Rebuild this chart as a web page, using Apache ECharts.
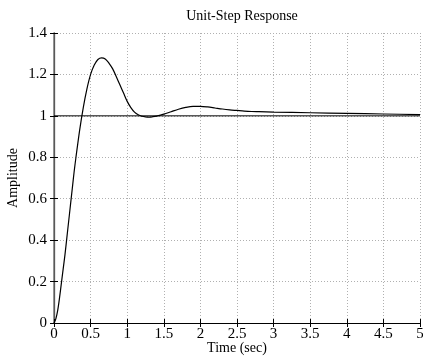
<!DOCTYPE html>
<html>
<head>
<meta charset="utf-8">
<script src="https://cdn.jsdelivr.net/npm/echarts@6/dist/echarts.min.js"></script>
<style>
  html, body { margin: 0; padding: 0; background: #fff; }
  #chart { width: 423px; height: 356px; }
</style>
</head>
<body>
<div id="chart"></div>
<script>
// step response (time in sec, amplitude)
const times = [0, 0.025, 0.05, 0.075, 0.1, 0.125, 0.15, 0.175, 0.2, 0.225, 0.25, 0.275, 0.3, 0.35, 0.4, 0.45, 0.5,
  0.55, 0.6, 0.65, 0.7, 0.75, 0.8, 0.85, 0.9, 0.95, 1.0, 1.05, 1.1, 1.15, 1.2, 1.25, 1.3, 1.35, 1.4, 1.5, 1.6, 1.7,
  1.8, 1.9, 2.0, 2.1, 2.2, 2.3, 2.4, 2.5, 2.6, 2.7, 2.8, 3.0, 3.5, 4.0, 4.5, 5.0];
const amplitude = [0, 0.02, 0.06, 0.12, 0.19, 0.26, 0.33, 0.41, 0.49, 0.57, 0.65, 0.73, 0.80, 0.93, 1.04, 1.13, 1.20,
  1.245, 1.272, 1.28, 1.275, 1.255, 1.228, 1.19, 1.15, 1.11, 1.07, 1.04, 1.018, 1.005, 0.998, 0.995, 0.994, 0.996, 0.999,
  1.008, 1.02, 1.032, 1.041, 1.046, 1.046, 1.043, 1.038, 1.033, 1.029, 1.026, 1.023, 1.021, 1.020, 1.018, 1.015, 1.012,
  1.009, 1.006];
const refLevel = 1;

const FONT = '"Liberation Serif", "DejaVu Serif", serif';

const chart = echarts.init(document.getElementById('chart'));

const tickStyle = { color: '#000', fontFamily: FONT, fontSize: 15 };
const nameStyle = { color: '#000', fontFamily: FONT, fontSize: 14 };
const gridLine = { show: true, lineStyle: { color: '#b0b0b0', type: [1, 2], width: 1 } };

chart.setOption({
  animation: false,
  title: {
    text: 'Unit-Step Response',
    left: 237,
    textAlign: 'center',
    top: 4,
    textStyle: { fontFamily: FONT, fontSize: 14, fontWeight: 'normal', color: '#000' }
  },
  grid: { left: 54, right: 3, top: 33, bottom: 33, outerBoundsMode: 'none' },
  xAxis: [
    {
      type: 'value', min: 0, max: 5, interval: 0.5,
      name: 'Time (sec)', nameLocation: 'middle', nameGap: 18, nameMoveOverlap: false,
      nameTextStyle: nameStyle,
      axisLine: { lineStyle: { color: '#000', width: 1.2 } },
      axisTick: { inside: true, length: 4, lineStyle: { color: '#000' } },
      axisLabel: Object.assign({ margin: 4 }, tickStyle),
      splitLine: gridLine
    },
    {
      type: 'value', min: 0, max: 5, interval: 0.5, position: 'top',
      axisLine: { lineStyle: { color: '#000', width: 1.2 } },
      axisTick: { inside: true, length: 4, lineStyle: { color: '#000' } },
      axisLabel: { show: false },
      splitLine: { show: false }
    }
  ],
  yAxis: [
    {
      type: 'value', min: 0, max: 1.4, interval: 0.2,
      name: 'Amplitude', nameLocation: 'middle', nameGap: 34, nameMoveOverlap: false,
      nameTextStyle: nameStyle,
      axisLine: { show: true, lineStyle: { color: '#000', width: 1.2 } },
      axisTick: { show: true, inside: true, length: 4, lineStyle: { color: '#000' } },
      axisLabel: Object.assign({ margin: 7 }, tickStyle),
      splitLine: gridLine
    },
    {
      type: 'value', min: 0, max: 1.4, interval: 0.2, position: 'right',
      axisLine: { show: true, lineStyle: { color: '#777', width: 1.5 } },
      axisTick: { show: true, inside: true, length: 4, lineStyle: { color: '#000' } },
      axisLabel: { show: false },
      splitLine: { show: false }
    }
  ],
  series: [
    {
      type: 'line',
      data: [[0, refLevel], [5, refLevel]],
      symbol: 'none',
      lineStyle: { color: '#000', width: 1 },
      silent: true
    },
    {
      type: 'line',
      data: times.map((t, i) => [t, amplitude[i]]),
      symbol: 'none',
      smooth: 0.3,
      lineStyle: { color: '#000', width: 1.2 }
    }
  ]
});
</script>
</body>
</html>
